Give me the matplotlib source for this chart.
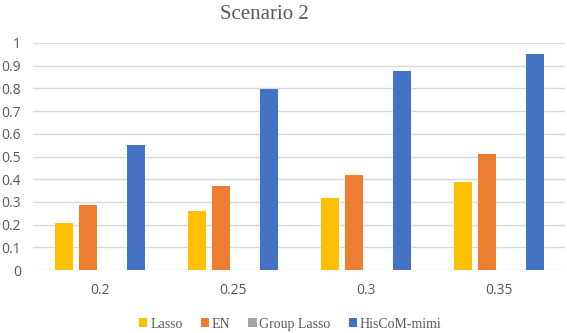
import matplotlib.pyplot as plt
import numpy as np

categories = ['0.2', '0.25', '0.3', '0.35']
series = ['Lasso', 'EN', 'Group Lasso', 'HisCoM-mimi']
lasso = [0.206, 0.260, 0.316, 0.387]
en = [0.288, 0.370, 0.419, 0.510]
group_lasso = [0, 0, 0, 0]
hiscom = [0.551, 0.798, 0.875, 0.951]
colors = ['#FFC000', '#ED7D31', '#A5A5A5', '#4472C4']

serif = ['Liberation Serif', 'DejaVu Serif']

fig = plt.figure(figsize=(5.67, 3.33), dpi=100)
ax = fig.add_axes([0.059, 0.189, 0.938, 0.682])

x = np.arange(len(categories))
step = 0.18
width = 0.137
for i, (vals, name) in enumerate(zip([lasso, en, group_lasso, hiscom], series)):
    ax.bar(x + (i - 1.5) * step, vals, width, color=colors[i], label=name, zorder=3)

ax.set_xlim(-0.5, len(categories) - 0.5)
ax.set_ylim(0, 1)
ax.set_yticks(np.arange(0, 1.01, 0.1))
ax.set_yticklabels(['0', '0.1', '0.2', '0.3', '0.4', '0.5', '0.6', '0.7', '0.8', '0.9', '1'])
ax.set_xticks(x)
ax.set_xticklabels(categories)
ax.grid(axis='y', color='#D9D9D9', linewidth=1, zorder=0)
for s in ax.spines.values():
    s.set_visible(False)
ax.tick_params(length=0, labelsize=10, labelcolor='#595959')
ax.tick_params(axis='y', pad=9)
ax.tick_params(axis='x', pad=9)
for lbl in ax.get_xticklabels() + ax.get_yticklabels():
    lbl.set_family('Open Sans')

fig.text(0.466, 0.955, 'Scenario 2', ha='center', va='center', fontsize=15,
         family=serif, color='#595959')

fig.legend(loc='center', bbox_to_anchor=(0.512, 0.027), ncol=4, frameon=False,
           prop={'family': serif, 'size': 10}, handlelength=0.6,
           handleheight=0.6, handletextpad=0.2, columnspacing=1.3, labelcolor='#595959')

plt.savefig('out.png', dpi=100)
